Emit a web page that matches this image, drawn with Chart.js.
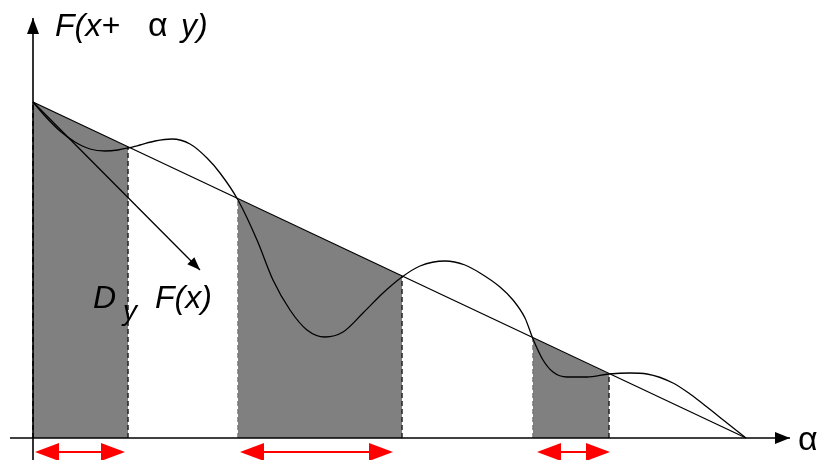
<!DOCTYPE html>
<html>
<head>
<meta charset="utf-8">
<script src="https://cdn.jsdelivr.net/npm/chart.js@4/dist/chart.umd.min.js"></script>
<style>
html,body{margin:0;padding:0;background:#fff;}
#wrap{width:822px;height:460px;position:relative;}
</style>
</head>
<body>
<div id="wrap"><canvas id="c"></canvas></div>
<script>
// ---- data (alpha along x, F(x+alpha y) up) ----
const curveAlpha = [0,12,27,42,57,72,85,95,107,122,139,157,174,187,205,224,240,257,274,292,310,330,350,369,387,412,432,447,467,480,492,500,510,520,534,554,576,597,614,640,657,674,694,713];
const curveF     = [336,322,307,296,289,287,288,290,293,297,299,294,280,265,238,198,158,128,108,101,106,125,145,161,172,177,173,165,151,138,120,99,78,66,61,61,64,65,64,55,44,31,15,0];
const chordAlpha = [0,713];
const chordF = [336,0];
const tangentAlpha = [0,167];
const tangentF = [336,168];
const regionStart = [0,205,500];
const regionEnd = [95,369,576];
const regionTopStart = [336,239,100];
const regionTopEnd = [291,162,64];
const rangeStart = [2,207,504];
const rangeEnd = [92,360,577];
const rangeLevel = -14;
const xAxisAlpha = [-23,757];
const yAxisF = [-22,420];

const toPts = (xs, ys) => xs.map((x,i)=>({x:x,y:ys[i]}));

const datasets = [];
datasets.push({label:'curve', data: toPts(curveAlpha, curveF), borderColor:'#000', borderWidth:1.3, pointRadius:0, cubicInterpolationMode:'monotone', fill:false, order:1});
datasets.push({label:'chord', data: toPts(chordAlpha, chordF), borderColor:'#000', borderWidth:1.3, pointRadius:0, fill:false, order:2});
datasets.push({label:'tangent', data: toPts(tangentAlpha, tangentF), borderColor:'#000', borderWidth:1.3, pointRadius:0, fill:false, order:3});
datasets.push({label:'xaxis', data: [{x:xAxisAlpha[0],y:0},{x:xAxisAlpha[1],y:0}], borderColor:'#000', borderWidth:1.6, pointRadius:0, fill:false, order:4});
datasets.push({label:'yaxis', data: [{x:0,y:yAxisF[0]},{x:0,y:yAxisF[1]}], borderColor:'#000', borderWidth:1.6, pointRadius:0, fill:false, order:5});
regionStart.forEach((a,i)=>{
  datasets.push({label:'edgeL'+i, data:[{x:a,y:0},{x:a,y:regionTopStart[i]}], borderColor: i===0?'#000':'#777', borderWidth:1.5, borderDash:[5,3], pointRadius:0, fill:false, order:6});
  datasets.push({label:'edgeR'+i, data:[{x:regionEnd[i],y:0},{x:regionEnd[i],y:regionTopEnd[i]}], borderColor:'#222', borderWidth:1.5, borderDash:[5,3], pointRadius:0, fill:false, order:6});
  datasets.push({label:'region'+i, data:[{x:a,y:regionTopStart[i]},{x:regionEnd[i],y:regionTopEnd[i]}], borderColor:'rgba(0,0,0,0)', borderWidth:0, pointRadius:0, backgroundColor:'#808080', fill:{value:0}, order:10});
});

function head(ctx, tx, ty, fx, fy, len, hw, color){
  const ang = Math.atan2(ty-fy, tx-fx);
  ctx.save();
  ctx.fillStyle = color;
  ctx.beginPath();
  ctx.moveTo(tx,ty);
  ctx.lineTo(tx - len*Math.cos(ang) + hw*Math.sin(ang), ty - len*Math.sin(ang) - hw*Math.cos(ang));
  ctx.lineTo(tx - len*Math.cos(ang) - hw*Math.sin(ang), ty - len*Math.sin(ang) + hw*Math.cos(ang));
  ctx.closePath();
  ctx.fill();
  ctx.restore();
}

const deco = {
  id:'deco',
  afterDatasetsDraw(chart){
    const ctx = chart.ctx, xs = chart.scales.x, ys = chart.scales.y;
    const px = v=>xs.getPixelForValue(v), py = v=>ys.getPixelForValue(v);
    // axis arrowheads
    head(ctx, px(xAxisAlpha[1]), py(0), px(0), py(0), 15, 6, '#000');
    head(ctx, px(0), py(yAxisF[1]), px(0), py(0), 16, 6, '#000');
    // tangent arrowhead
    head(ctx, px(tangentAlpha[1]), py(tangentF[1]), px(tangentAlpha[0]), py(tangentF[0]), 13, 5, '#000');
    // red ranges
    rangeStart.forEach((a,i)=>{
      const x1 = px(a), x2 = px(rangeEnd[i]), y = py(rangeLevel);
      ctx.save();
      ctx.strokeStyle = '#f00'; ctx.lineWidth = 2;
      ctx.beginPath(); ctx.moveTo(x1+10,y); ctx.lineTo(x2-10,y); ctx.stroke();
      ctx.restore();
      head(ctx, x1, y, x2, y, 24, 9, '#f00');
      head(ctx, x2, y, x1, y, 24, 9, '#f00');
    });
    // texts
    ctx.save();
    ctx.fillStyle = '#000';
    ctx.textBaseline = 'alphabetic';
    ctx.font = 'italic 32px "Liberation Sans", Arial, sans-serif';
    ctx.fillText('F(x+', px(22), py(402));
    ctx.font = '34px "Liberation Sans", Arial, sans-serif';
    ctx.fillText('\u03B1', px(115), py(402));
    ctx.font = 'italic 32px "Liberation Sans", Arial, sans-serif';
    ctx.fillText('y)', px(148), py(402));
    ctx.fillText('D', px(60), py(130));
    ctx.font = 'italic 28px "Liberation Sans", Arial, sans-serif';
    ctx.fillText('y', px(90), py(118));
    ctx.font = 'italic 32px "Liberation Sans", Arial, sans-serif';
    ctx.fillText('F(x)', px(122), py(130));
    ctx.font = '34px "Liberation Sans", Arial, sans-serif';
    ctx.fillText('\u03B1', px(765), py(-12));
    ctx.restore();
  }
};

new Chart(document.getElementById('c'), {
  type:'line',
  data:{datasets:datasets},
  options:{
    responsive:true, maintainAspectRatio:false, animation:false,
    layout:{padding:0},
    plugins:{legend:{display:false}, tooltip:{enabled:false}},
    scales:{
      x:{type:'linear', min:-33, max:789, display:false},
      y:{type:'linear', min:-22, max:438, display:false}
    }
  },
  plugins:[deco]
});
</script>
</body>
</html>
